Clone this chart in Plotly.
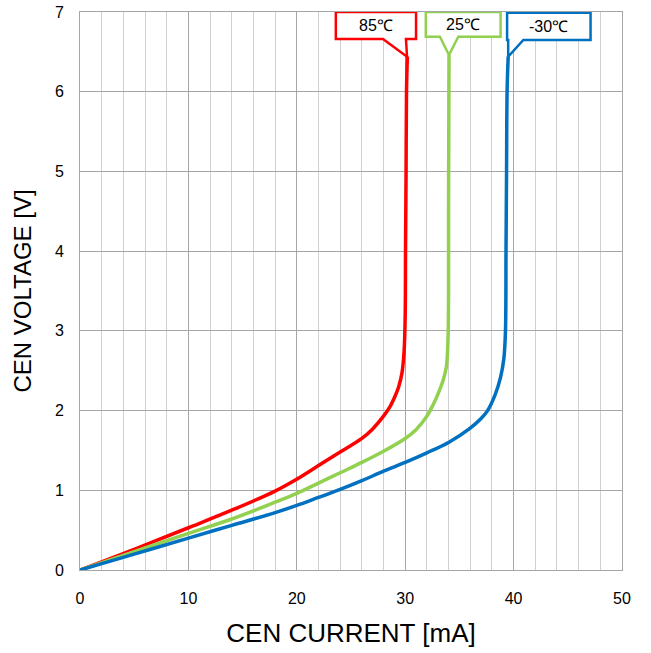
import plotly.graph_objects as go

# Data
red_x = [0, 5, 10, 14, 18, 20, 22, 24, 26, 27, 28, 28.6, 29, 29.4, 29.7, 29.9, 30.0, 30.03, 30.08, 30.12, 30.2]
red_y = [0, 0.26, 0.53, 0.75, 0.99, 1.14, 1.31, 1.48, 1.65, 1.77, 1.93, 2.05, 2.16, 2.30, 2.47, 2.75, 3.2, 4.0, 5.0, 6.0, 6.44]
green_x = [0, 5, 10, 14, 18, 20, 22, 24, 26, 28, 30, 31, 32, 32.6, 33.0, 33.5, 33.8, 33.95, 34.0, 34.0, 34.02, 34.04]
green_y = [0, 0.23, 0.46, 0.64, 0.85, 0.96, 1.09, 1.22, 1.35, 1.49, 1.65, 1.76, 1.93, 2.08, 2.2, 2.38, 2.55, 2.9, 3.5, 4.5, 5.5, 6.46]
blue_x = [0, 5, 10, 14, 18, 20, 22, 24, 26, 28, 30, 32, 34, 36, 37, 37.6, 38.3, 38.8, 39.1, 39.25, 39.3, 39.35, 39.4, 39.5]
blue_y = [0, 0.2, 0.40, 0.56, 0.72, 0.81, 0.91, 1.01, 1.12, 1.24, 1.35, 1.47, 1.60, 1.78, 1.90, 2.0, 2.2, 2.42, 2.65, 3.0, 4.0, 5.0, 6.0, 6.44]

labels = ["85℃", "25℃", "-30℃"]
colors = ["#FF0000", "#92D050", "#0070C0"]
# callout boxes: (left, right, top, bottom, base_left, base_right, tip_x, tip_y)
callouts = [
    (23.6, 31.0, 7.0, 6.66, 27.95, 30.07, 30.17, 6.44),
    (31.9, 38.8, 7.0, 6.69, 33.2, 34.9, 34.04, 6.46),
    (39.4, 47.1, 6.99, 6.65, 39.5, 40.9, 39.5, 6.44),
]

fig = go.Figure()
for xs, ys, c in [(red_x, red_y, colors[0]), (green_x, green_y, colors[1]), (blue_x, blue_y, colors[2])]:
    fig.add_trace(go.Scatter(x=xs, y=ys, mode="lines",
                             line=dict(color=c, width=3.5, shape="spline", smoothing=1.0),
                             showlegend=False, hoverinfo="skip"))

for lab, c, (l, r, t, b, bl, br, tx, ty) in zip(labels, colors, callouts):
    path = f"M {l},{t} L {r},{t} L {r},{b} L {br},{b} L {tx},{ty} L {bl},{b} L {l},{b} Z"
    fig.add_shape(type="path", path=path, xref="x", yref="y",
                  line=dict(color=c, width=2.5), fillcolor="white", layer="above")
    fig.add_annotation(x=(l + r) / 2, y=(t + b) / 2, text=lab, showarrow=False,
                       xref="x", yref="y",
                       font=dict(family="Liberation Sans, Arial", size=16, color="black"))

fig.update_layout(
    width=651, height=653,
    margin=dict(l=80, r=29, t=12, b=83),
    paper_bgcolor="white", plot_bgcolor="white",
    font=dict(family="Liberation Sans, Arial", color="black"),
    xaxis=dict(range=[0, 50], dtick=10, tick0=0, showgrid=True, gridcolor="#A6A6A6", gridwidth=1.3,
               minor=dict(dtick=2, showgrid=True, gridcolor="#D0D0D0", gridwidth=1),
               showline=True, linecolor="#A6A6A6", mirror=True, zeroline=False,
               ticks="", tickfont=dict(size=16), automargin=False, ticklabelstandoff=14,
               title=dict(text="CEN CURRENT [mA]", font=dict(size=26), standoff=17)),
    yaxis=dict(range=[0, 7], dtick=1, tick0=0, showgrid=True, gridcolor="#A6A6A6", gridwidth=1.3,
               showline=True, linecolor="#A6A6A6", mirror=True, zeroline=False,
               ticks="", tickfont=dict(size=16), automargin=False, ticklabelstandoff=12,
               title=dict(text="CEN VOLTAGE [V]", font=dict(size=24), standoff=16)),
)

fig.write_html("out.html")
